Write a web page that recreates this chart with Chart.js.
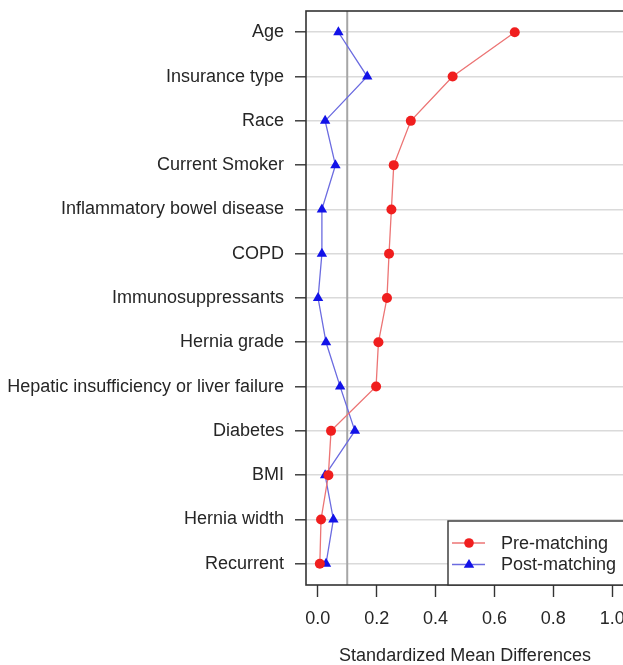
<!DOCTYPE html>
<html>
<head>
<meta charset="utf-8">
<script src="https://cdn.jsdelivr.net/npm/chart.js@4/dist/chart.umd.min.js"></script>
<style>
  html, body { margin: 0; padding: 0; overflow: hidden; background: #fff; }
  canvas { display: block; }
</style>
</head>
<body>
<canvas id="smd" width="630" height="665"></canvas>
<script>
// Covariate balance (love plot): SMD before and after matching.

const categories = [
  'Age', 'Insurance type', 'Race', 'Current Smoker', 'Inflammatory bowel disease',
  'COPD', 'Immunosuppressants', 'Hernia grade', 'Hepatic insufficiency or liver failure',
  'Diabetes', 'BMI', 'Hernia width', 'Recurrent',
];
const preMatching = [0.669, 0.458, 0.316, 0.258, 0.250, 0.242, 0.235, 0.206, 0.198, 0.045, 0.036, 0.011, 0.007];
const postMatching = [0.070, 0.168, 0.025, 0.060, 0.014, 0.014, 0.001, 0.028, 0.076, 0.126, 0.025, 0.053, 0.028];
const xTicks = [0, 0.2, 0.4, 0.6, 0.8, 1.0];
const xTickLabels = ['0.0', '0.2', '0.4', '0.6', '0.8', '1.0'];
const threshold = 0.1;

const FONT = 'Arial, "Liberation Sans", Helvetica, sans-serif';
const TEXT = '#262626';

// plot frame + threshold line, drawn under the data
const framePlugin = {
  id: 'lp-frame',
  beforeDatasetsDraw(chart) {
    const { ctx, chartArea: a, scales } = chart;
    const x = scales.x.getPixelForValue(threshold);
    ctx.save();
    ctx.strokeStyle = '#a6a6a6';
    ctx.lineWidth = 2;
    ctx.beginPath();
    ctx.moveTo(x, a.top);
    ctx.lineTo(x, a.bottom);
    ctx.stroke();
    ctx.restore();
  },
  afterDatasetsDraw(chart) {
    const { ctx, chartArea: a } = chart;
    ctx.save();
    ctx.strokeStyle = '#333';
    ctx.lineWidth = 1.6;
    ctx.strokeRect(a.left, a.top, a.right - a.left, a.bottom - a.top);
    ctx.restore();
  },
};

// R-style legend box in the lower right corner of the plot
const legendPlugin = {
  id: 'lp-legend',
  afterDraw(chart) {
    const { ctx, chartArea: a } = chart;
    const left = 448, top = 521;
    ctx.save();
    ctx.fillStyle = '#fff';
    ctx.fillRect(left, top, a.right - left, a.bottom - top);
    ctx.strokeStyle = '#333';
    ctx.lineWidth = 1.4;
    ctx.strokeRect(left, top, a.right - left + 10, a.bottom - top);
    ctx.font = '18px ' + FONT;
    ctx.textBaseline = 'middle';
    chart.data.datasets.forEach((ds, i) => {
      const y = 543 + i * 21.5;
      ctx.strokeStyle = ds.borderColor;
      ctx.lineWidth = 1.3;
      ctx.beginPath();
      ctx.moveTo(452, y);
      ctx.lineTo(485, y);
      ctx.stroke();
      ctx.fillStyle = ds.pointBackgroundColor;
      ctx.beginPath();
      if (ds.pointStyle === 'triangle') {
        const r = 5.5;
        ctx.moveTo(469, y - r);
        ctx.lineTo(469 + r * 0.95, y + r * 0.6);
        ctx.lineTo(469 - r * 0.95, y + r * 0.6);
        ctx.closePath();
      } else {
        ctx.arc(469, y, 4.8, 0, Math.PI * 2);
      }
      ctx.fill();
      ctx.fillStyle = TEXT;
      ctx.fillText(ds.label, 501, y + 1);
    });
    ctx.restore();
  },
};

const toPoints = arr => arr.map((v, i) => ({ x: v, y: i + 1 }));

new Chart(document.getElementById('smd'), {
  type: 'line',
  data: {
    datasets: [
      {
        label: 'Pre-matching', data: toPoints(preMatching),
        borderColor: '#ec7474', borderWidth: 1.3,
        pointStyle: 'circle', pointRadius: 5, pointBorderWidth: 0,
        pointBackgroundColor: '#f01e1e', pointBorderColor: '#f01e1e',
        fill: false, tension: 0,
      },
      {
        label: 'Post-matching', data: toPoints(postMatching),
        borderColor: '#6b6be0', borderWidth: 1.3,
        pointStyle: 'triangle', pointRadius: 6, pointBorderWidth: 0,
        pointBackgroundColor: '#1212e8', pointBorderColor: '#1212e8',
        fill: false, tension: 0,
      },
    ],
  },
  options: {
    responsive: false, animation: false,
    layout: { padding: { top: 11, right: 5.5, left: 0, bottom: 0 } },
    scales: {
      x: {
        type: 'linear', min: -0.04, max: 1.04,
        afterBuildTicks: s => { s.ticks = xTicks.map(v => ({ value: v })); },
        // fixed axis band; label overhang is not allowed to shrink the plot
        afterFit: s => { s.height = 80; s.paddingLeft = 0; s.paddingRight = 0; },
        ticks: {
          color: TEXT, padding: 11, maxRotation: 0,
          font: { family: FONT, size: 18 },
          callback: (v) => xTickLabels[xTicks.indexOf(v)],
        },
        grid: { drawOnChartArea: false, drawTicks: true, tickLength: 12, tickColor: '#333', tickWidth: 1.4 },
        border: { display: false },
        title: { display: true, text: 'Standardized Mean Differences', color: TEXT,
                 font: { family: FONT, size: 18, lineHeight: 1.05 }, padding: { top: 0, bottom: 0 } },
      },
      y: {
        type: 'linear', min: 0.52, max: 13.48, reverse: true,
        afterBuildTicks: s => { s.ticks = categories.map((c, i) => ({ value: i + 1 })); },
        afterFit: s => { s.width = 306; s.paddingTop = 0; s.paddingBottom = 0; },
        ticks: {
          color: TEXT, padding: 11,
          font: { family: FONT, size: 18 },
          callback: (v) => categories[v - 1],
        },
        grid: { color: '#dadada', lineWidth: 1.6, tickLength: 11, tickColor: '#333', tickWidth: 1.4 },
        border: { display: false },
      },
    },
    plugins: { legend: { display: false }, tooltip: { enabled: false } },
  },
  plugins: [framePlugin, legendPlugin],
});
</script>
</body>
</html>
